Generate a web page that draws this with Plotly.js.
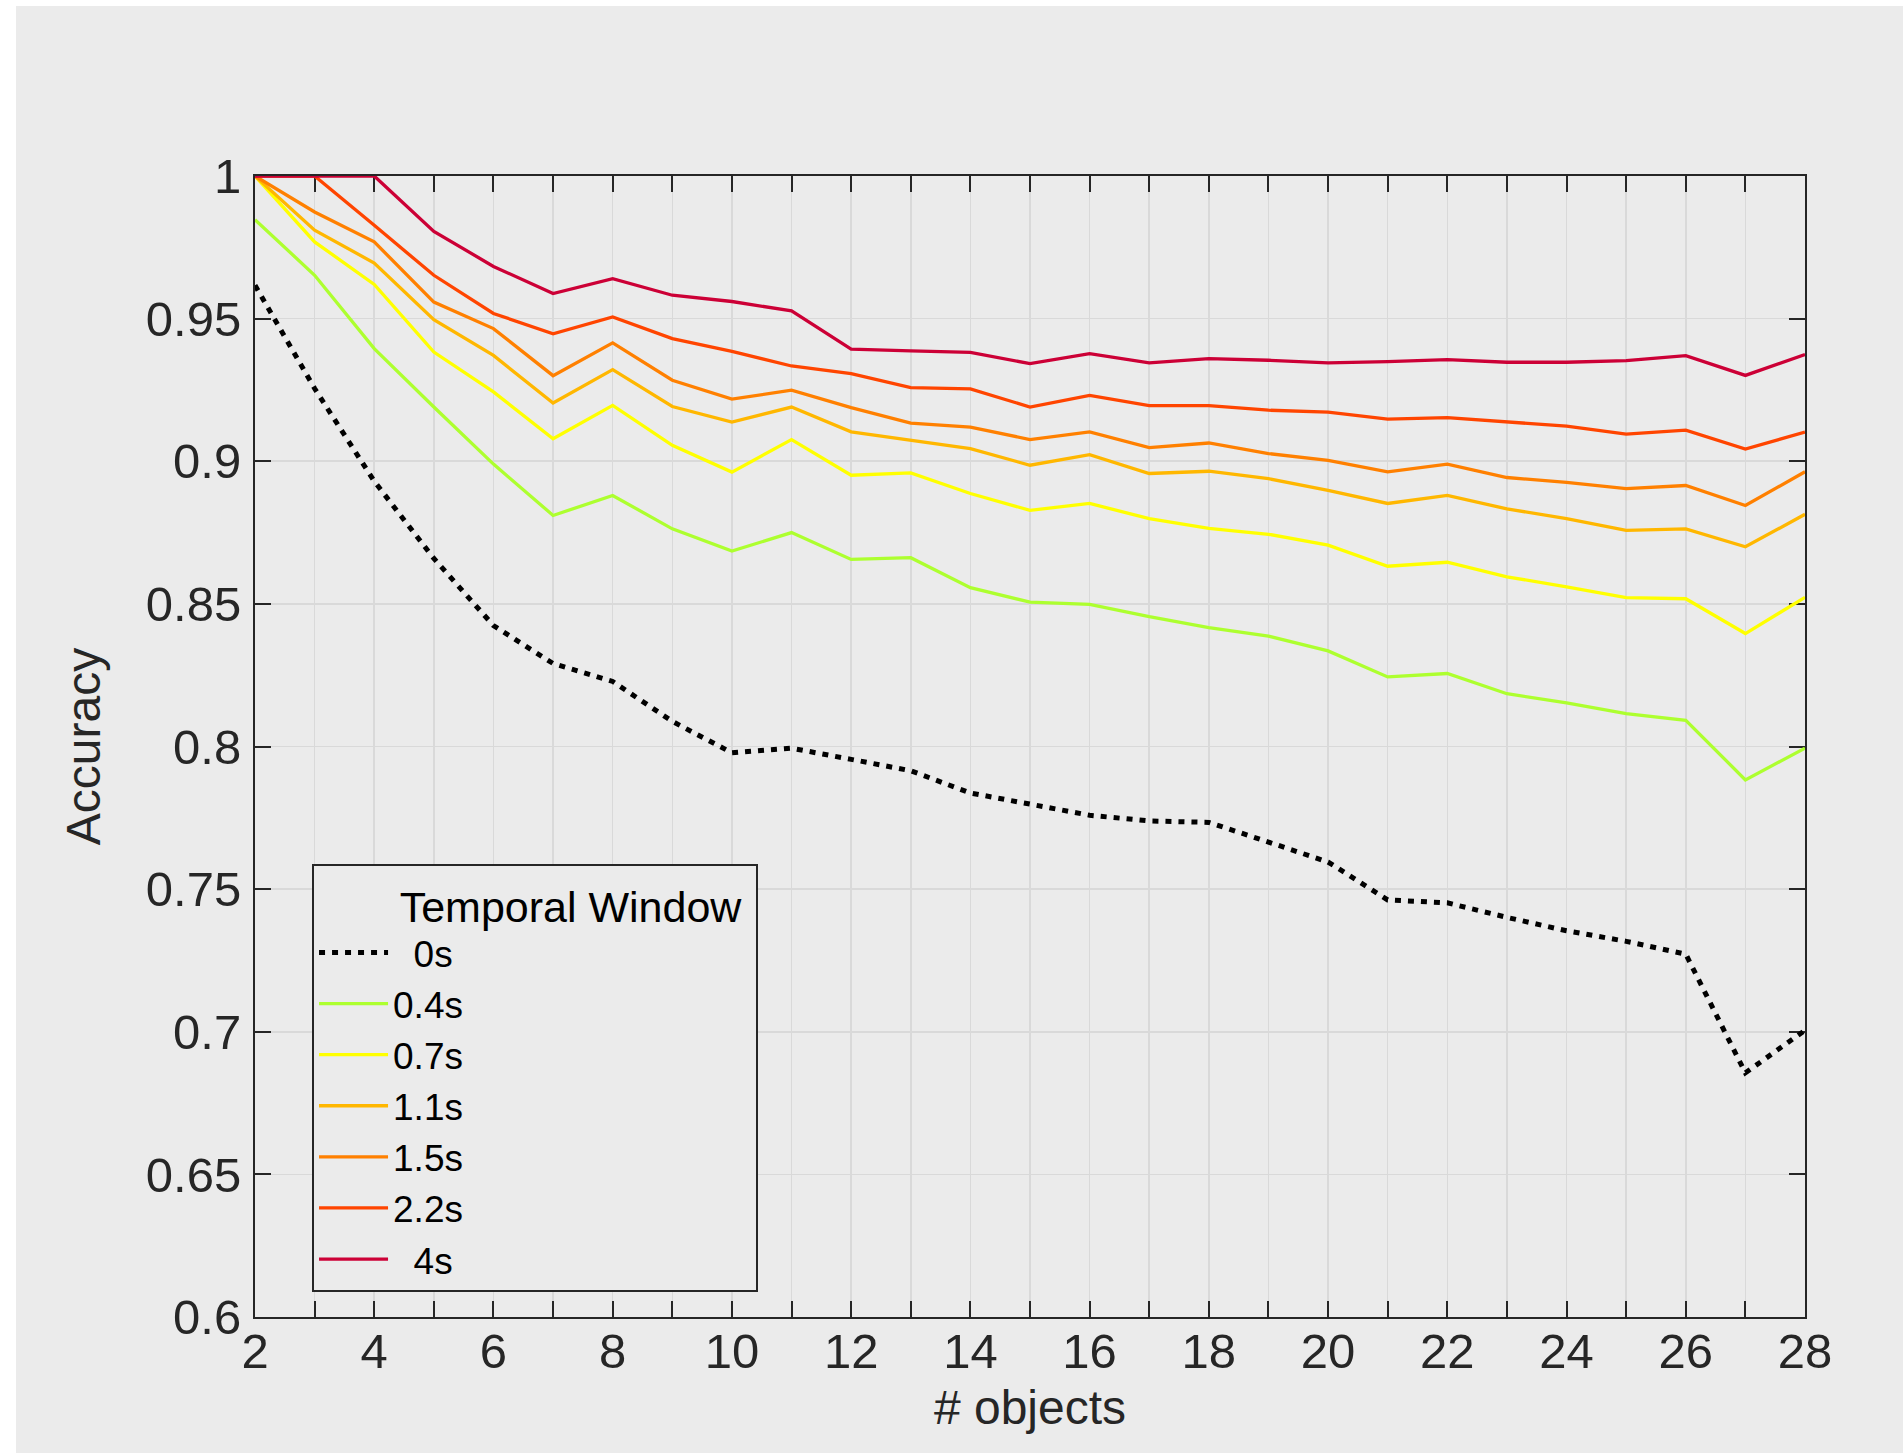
<!DOCTYPE html>
<html>
<head>
<meta charset="utf-8">
<script src="https://cdn.plot.ly/plotly-3.0.1.min.js"></script>
<style>
  html, body { margin: 0; padding: 0; background: #ffffff; }
  #chart { position: absolute; left: 16px; top: 6px; width: 1887px; height: 1447px; }
</style>
</head>
<body>
<div id="chart"></div>
<script>
// ---- data ----
const nObjects = [2,3,4,5,6,7,8,9,10,11,12,13,14,15,16,17,18,19,20,21,22,23,24,25,26,27,28];

const seriesNames = ["\u00a0\u00a00s", "0.4s", "0.7s", "1.1s", "1.5s", "2.2s", "\u00a0\u00a04s"];

const acc0s  = [0.9617,0.9255,0.893,0.8659,0.8424,0.8291,0.8228,0.8088,0.7978,0.7994,0.7955,0.7915,0.7837,0.7798,0.7759,0.7739,0.7734,0.7665,0.7595,0.7462,0.7452,0.7401,0.7354,0.7317,0.7272,0.6856,0.7005];
const acc04s = [0.9847,0.9652,0.9395,0.919,0.899,0.881,0.888,0.8763,0.8685,0.875,0.8656,0.8662,0.8557,0.8506,0.8498,0.8455,0.8417,0.8387,0.8335,0.8244,0.8256,0.8185,0.8153,0.8115,0.8092,0.7883,0.7994];
const acc07s = [1.0,0.9769,0.962,0.9383,0.9243,0.9079,0.9196,0.9056,0.8962,0.9076,0.8951,0.8959,0.8887,0.8828,0.8852,0.8799,0.8765,0.8744,0.8706,0.8632,0.8646,0.8595,0.856,0.8522,0.8518,0.8396,0.8523];
const acc11s = [1.0,0.981,0.9695,0.9496,0.9371,0.9204,0.9321,0.9192,0.9137,0.919,0.9103,0.9074,0.9044,0.8986,0.9023,0.8957,0.8965,0.8939,0.8898,0.8852,0.888,0.8833,0.8799,0.8758,0.8763,0.87,0.8814];
const acc15s = [1.0,0.9874,0.9769,0.9558,0.9465,0.930,0.9415,0.9284,0.9218,0.9249,0.9188,0.9134,0.912,0.9076,0.9103,0.9048,0.9064,0.9027,0.9003,0.8963,0.899,0.8943,0.8926,0.8904,0.8915,0.8845,0.8963];
const acc22s = [1.0,1.0,0.9827,0.9652,0.9518,0.9447,0.9506,0.943,0.9385,0.9334,0.9307,0.9258,0.9254,0.919,0.9231,0.9195,0.9195,0.9179,0.9172,0.9148,0.9153,0.9138,0.9123,0.9095,0.9109,0.9043,0.9102];
const acc4s  = [1.0,1.0,1.0,0.9806,0.9683,0.9588,0.964,0.9582,0.956,0.9527,0.9393,0.9387,0.9382,0.9342,0.9377,0.9345,0.936,0.9354,0.9345,0.9349,0.9356,0.9347,0.9347,0.9353,0.937,0.9301,0.9374];

const xTickVals = [2,3,4,5,6,7,8,9,10,11,12,13,14,15,16,17,18,19,20,21,22,23,24,25,26,27,28];
const xTickText = ["2","","4","","6","","8","","10","","12","","14","","16","","18","","20","","22","","24","","26","","28"];
const yTickVals = [0.6,0.65,0.7,0.75,0.8,0.85,0.9,0.95,1.0];
const yTickText = ["0.6","0.65","0.7","0.75","0.8","0.85","0.9","0.95","1"];

// ---- styles ----
const seriesValues = [acc0s, acc04s, acc07s, acc11s, acc15s, acc22s, acc4s];
const seriesColors = ["#000000", "#adff2f", "#ffff00", "#ffb700", "#ff8000", "#ff4500", "#cc0036"];

const traces = seriesValues.map((vals, i) => ({
  type: "scatter",
  mode: "lines",
  x: nObjects,
  y: vals,
  name: seriesNames[i],
  line: i === 0
    ? { color: seriesColors[i], width: 5, dash: "6px,7px" }
    : { color: seriesColors[i], width: 3.3 },
  hoverinfo: "x+y+name"
}));

const font = "'Liberation Sans', Arial, Helvetica, sans-serif";
const axisColor = "#262626";
const bg = "#ebebeb";

const layout = {
  width: 1887,
  height: 1447,
  paper_bgcolor: bg,
  plot_bgcolor: bg,
  margin: { l: 239, r: 98, t: 170, b: 136, pad: 0 },
  font: { family: font, color: axisColor },
  showlegend: true,
  xaxis: {
    range: [2, 28],
    tickmode: "array",
    tickvals: xTickVals,
    ticktext: xTickText,
    ticks: "inside",
    ticklen: 16,
    tickwidth: 2,
    tickcolor: axisColor,
    showline: true,
    linecolor: axisColor,
    linewidth: 2,
    mirror: "ticks",
    showgrid: true,
    gridcolor: "#d9d9d9",
    gridwidth: 1.6,
    zeroline: false,
    layer: "below traces",
    tickfont: { family: font, size: 49, color: axisColor },
    ticklabelstandoff: -10,
    title: { text: "# objects", font: { family: font, size: 48, color: axisColor }, standoff: 14 }
  },
  yaxis: {
    range: [0.6, 1.0],
    tickmode: "array",
    tickvals: yTickVals,
    ticktext: yTickText,
    ticks: "inside",
    ticklen: 16,
    tickwidth: 2,
    tickcolor: axisColor,
    showline: true,
    linecolor: axisColor,
    linewidth: 2,
    mirror: "ticks",
    showgrid: true,
    gridcolor: "#d9d9d9",
    gridwidth: 1.6,
    zeroline: false,
    layer: "below traces",
    tickfont: { family: font, size: 49, color: axisColor },
    ticklabelstandoff: 2,
    title: { text: "Accuracy", font: { family: font, size: 48, color: axisColor }, standoff: 30 }
  },
  legend: {
    x: 0.0368,
    y: 0.397,
    xanchor: "left",
    yanchor: "top",
    bgcolor: bg,
    bordercolor: axisColor,
    borderwidth: 2,
    itemwidth: 69,
    tracegroupgap: 0,
    font: { family: font, size: 37, color: "#000000" },
    title: { text: "\u00a0\u00a0\u00a0\u00a0\u00a0\u00a0\u00a0Temporal Window\u00a0", side: "top", font: { family: font, size: 43, color: "#000000" } }
  }
};

Plotly.newPlot("chart", traces, layout, { displayModeBar: false, staticPlot: true });
</script>
</body>
</html>
